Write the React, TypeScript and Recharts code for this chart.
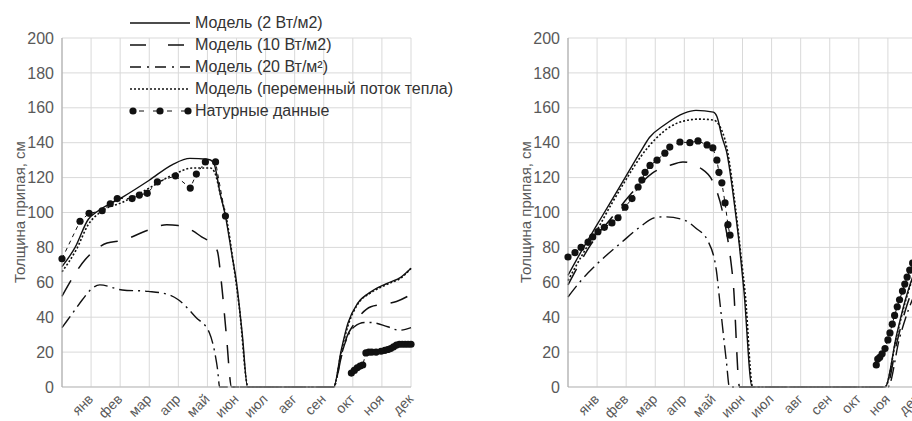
import React from "react";
import { LineChart, Line, XAxis, YAxis, CartesianGrid } from "recharts";

// month labels sit on the gridline that closes each month
const months = ["янв", "фев", "мар", "апр", "май", "июн", "июл", "авг", "сен", "окт", "ноя", "дек"];
const monthTicks = [0, 1, 2, 3, 4, 5, 6, 7, 8, 9, 10, 11, 12];
const yTicks = [0, 20, 40, 60, 80, 100, 120, 140, 160, 180, 200];

// left panel: [month, cm]
const leftModel2 = [
  [0, 69], [0.45, 80], [0.9, 96], [1.25, 101], [2.1, 109], [3, 118.5], [3.8, 127.5], [4.4, 131],
  [5.0, 130.5], [5.2, 129], [5.45, 110], [5.62, 98], [5.85, 75], [6.0, 60], [6.2, 30], [6.38, 0],
  [9.34, 0], [9.6, 21], [9.83, 36.5], [10.17, 48], [10.62, 54.5], [11.2, 59.5], [11.66, 63], [12, 68],
];
const leftModel10 = [
  [0, 52], [0.8, 73], [1.55, 82.5], [2.07, 84], [2.97, 90], [3.6, 93], [4.0, 92.5], [4.5, 89.5],
  [4.8, 86], [5.1, 83], [5.34, 78], [5.48, 60], [5.65, 30], [5.83, 0],
  [9.35, 0], [9.6, 17], [9.8, 29], [10.0, 35], [10.3, 42], [10.62, 46], [11.1, 47.5], [11.5, 49], [12, 53],
];
const leftModel20 = [
  [0, 34], [0.35, 42], [0.7, 50], [1.0, 56], [1.3, 58.5], [2.07, 55.6], [2.97, 54.8], [3.65, 53],
  [4.0, 50], [4.6, 40], [5.07, 31], [5.25, 20], [5.35, 10], [5.42, 0],
  [9.35, 0], [9.6, 18], [9.85, 30], [10.05, 34.5], [10.4, 37], [10.6, 37], [11.2, 34.5], [11.6, 32.5], [12, 34],
];
const leftModelVar = [
  [0, 66], [0.5, 79], [0.9, 93], [1.3, 100], [2.1, 106], [3, 114], [3.8, 121.5], [4.5, 125.5],
  [5.1, 125.5], [5.25, 123], [5.45, 110], [5.65, 97], [5.9, 70], [6.1, 45], [6.4, 0],
  [9.34, 0], [9.6, 20], [9.83, 35], [10.17, 47.5], [10.62, 54], [11.2, 59], [11.66, 62.5], [12, 68],
];
const leftObsSpring = [
  [0, 73.5], [0.62, 95], [0.93, 99.5], [1.38, 101], [1.66, 105], [1.9, 108], [2.41, 108], [2.66, 110],
  [2.93, 111], [3.28, 117.5], [3.9, 121], [4.41, 114], [4.62, 122], [4.93, 129], [5.28, 129], [5.62, 98],
];
const leftObsAutumn = [
  [9.95, 8], [10.05, 9.5], [10.15, 11], [10.25, 12], [10.34, 12.6], [10.45, 19.5], [10.55, 20],
  [10.65, 20], [10.8, 20], [10.97, 20.5], [11.1, 21], [11.2, 21.5], [11.3, 22], [11.4, 23],
  [11.5, 24], [11.6, 24.5], [11.7, 24.5], [11.8, 24.5], [11.9, 24.5], [12, 24.5],
];

// right panel
const rightModel2 = [
  [0, 64], [0.5, 79], [1.0, 93], [1.5, 107], [2.0, 121], [2.5, 135], [2.8, 143], [3.3, 150],
  [4.0, 157], [4.4, 158.5], [5.0, 157.5], [5.12, 155], [5.3, 143], [5.45, 135], [5.75, 101],
  [5.9, 80], [6.05, 55], [6.33, 0],
  [10.9, 0], [11.3, 30], [11.6, 50], [12, 70],
];
const rightModel10 = [
  [0, 58.5], [0.8, 82], [1.5, 97], [2.35, 114], [2.9, 122.6], [3.5, 127], [3.95, 129], [4.55, 125.5],
  [5.0, 117], [5.35, 97.5], [5.6, 72], [5.68, 60], [5.9, 0],
  [10.95, 0], [11.3, 25], [11.6, 44], [12, 62],
];
const rightModel20 = [
  [0, 51.6], [0.5, 62], [1.03, 71], [1.85, 83], [2.5, 92], [2.98, 97], [3.3, 97.5], [3.95, 96],
  [4.4, 91], [4.8, 84], [5.1, 67], [5.2, 52], [5.45, 14], [5.55, 0],
  [11.0, 0], [11.4, 28], [11.7, 44], [12, 56],
];
const rightModelVar = [
  [0, 61], [0.5, 76], [1.0, 90], [1.5, 105], [2.0, 119], [2.5, 132], [3.0, 142], [3.5, 149],
  [4.0, 152.5], [4.5, 153.5], [5.0, 153], [5.2, 150], [5.45, 138], [5.75, 104], [5.95, 75],
  [6.1, 52], [6.35, 0],
  [10.9, 0], [11.3, 29], [11.6, 49], [12, 69],
];
const rightObsSpring = [
  [0, 74.5], [0.24, 77], [0.45, 80], [0.69, 83], [0.85, 86], [1.03, 89], [1.25, 91.5], [1.51, 94],
  [1.72, 97], [1.96, 103], [2.2, 108], [2.41, 114.6], [2.54, 118.6], [2.65, 123], [2.82, 127],
  [3.06, 130], [3.33, 134], [3.5, 137.5], [3.85, 140.4], [4.19, 140], [4.47, 141], [4.78, 138.7],
  [4.98, 137], [5.12, 130], [5.19, 123], [5.29, 117], [5.4, 105.5], [5.5, 93], [5.57, 87],
];
const rightObsAutumn = [
  [10.6, 12.6], [10.65, 16], [10.72, 17], [10.8, 19], [10.9, 22], [11.0, 27], [11.07, 31],
  [11.15, 36], [11.23, 41], [11.32, 46], [11.4, 50], [11.5, 55], [11.58, 59], [11.66, 63],
  [11.75, 67], [11.85, 71], [12, 77],
];

const pts = (a: number[][]) => a.map(([m, v]) => ({ m, v }));

const INK = "#111";
const TXT = "#595959";
const FONT = "'Liberation Sans', Arial, sans-serif";

const MonthTick = (props: any) => {
  const { x, y, payload } = props;
  const label = months[payload.value - 1];
  if (!label) return null;
  const ax = x - 4;
  const ay = y - 2;
  return (
    <text x={ax} y={ay} dy="0.71em" textAnchor="end" fontSize={14} fill={TXT} fontFamily={FONT}
      transform={`rotate(-45 ${ax} ${ay})`}>
      {label}
    </text>
  );
};

type PanelProps = {
  left: number;
  m2: number[][];
  m10: number[][];
  m20: number[][];
  mVar: number[][];
  obsA: number[][];
  obsB: number[][];
};

function Panel({ left, m2, m10, m20, mVar, obsA, obsB }: PanelProps) {
  const obsDot = { r: 3.6, fill: INK, stroke: INK, strokeWidth: 0 };
  return (
    <div style={{ position: "absolute", left, top: 0 }}>
      <LineChart width={420} height={421} margin={{ top: 38, right: 9, bottom: 0, left: 0 }}>
        <CartesianGrid stroke="#d9d9d9" />
        <XAxis type="number" dataKey="m" domain={[0, 12]} ticks={monthTicks} interval={0}
          tickLine={false} axisLine={{ stroke: "#bfbfbf" }} height={34} tick={<MonthTick />} />
        <YAxis type="number" domain={[0, 200]} ticks={yTicks} interval={0} width={62}
          tickLine={false} axisLine={{ stroke: "#a6a6a6" }}
          tick={{ fontSize: 16, fill: TXT, fontFamily: FONT }} />
        <Line data={pts(m20)} dataKey="v" type="monotone" stroke={INK} strokeWidth={1.4}
          strokeDasharray="14 5 2 5" dot={false} isAnimationActive={false} />
        <Line data={pts(m10)} dataKey="v" type="monotone" stroke={INK} strokeWidth={1.5}
          strokeDasharray="18 14" dot={false} isAnimationActive={false} />
        <Line data={pts(mVar)} dataKey="v" type="monotone" stroke={INK} strokeWidth={1.6}
          strokeDasharray="2 2" dot={false} isAnimationActive={false} />
        <Line data={pts(m2)} dataKey="v" type="monotone" stroke={INK} strokeWidth={1.4}
          dot={false} isAnimationActive={false} />
        <Line data={pts(obsA)} dataKey="v" type="linear" stroke={INK} strokeWidth={1}
          strokeDasharray="4 4" dot={obsDot} isAnimationActive={false} />
        <Line data={pts(obsB)} dataKey="v" type="linear" stroke={INK} strokeWidth={1}
          strokeDasharray="4 4" dot={obsDot} isAnimationActive={false} />
      </LineChart>
      <div style={{
        position: "absolute", left: 19, top: 212, transform: "translate(-50%, -50%) rotate(-90deg)",
        whiteSpace: "nowrap", fontSize: 15, color: TXT, fontFamily: FONT,
      }}>
        Толщина припая, см
      </div>
    </div>
  );
}

const legendItems = [
  { label: "Модель (2 Вт/м2)", dash: "" },
  { label: "Модель (10 Вт/м2)", dash: "16 22" },
  { label: "Модель (20 Вт/м²)", dash: "11 6 2 6" },
  { label: "Модель (переменный поток тепла)", dash: "2 2" },
  { label: "Натурные данные", dash: "obs" },
];

function LegendBox() {
  return (
    <div style={{ position: "absolute", left: 128, top: 12, fontFamily: FONT }}>
      {legendItems.map((it, i) => (
        <div key={i} style={{ display: "flex", alignItems: "center", height: 22 }}>
          <svg width={66} height={12}>
            {it.dash === "obs" ? (
              <g>
                <line x1={5} y1={6} x2={60} y2={6} stroke={INK} strokeWidth={1} strokeDasharray="5 9" strokeDashoffset={-6} />
                <circle cx={5} cy={6} r={3.6} fill={INK} />
                <circle cx={32} cy={6} r={3.6} fill={INK} />
                <circle cx={60} cy={6} r={3.6} fill={INK} />
              </g>
            ) : (
              <line x1={2} y1={6} x2={62} y2={6} stroke={INK} strokeWidth={1.5}
                strokeDasharray={it.dash || undefined} />
            )}
          </svg>
          <span style={{ fontSize: 16, color: "#333", marginLeft: 1, whiteSpace: "nowrap" }}>{it.label}</span>
        </div>
      ))}
    </div>
  );
}

export default function App() {
  return (
    <div style={{
      position: "absolute", left: 0, top: 0, width: 912, height: 421, overflow: "hidden",
      background: "#fff", fontFamily: FONT,
    }}>
      <Panel left={0} m2={leftModel2} m10={leftModel10} m20={leftModel20} mVar={leftModelVar}
        obsA={leftObsSpring} obsB={leftObsAutumn} />
      <Panel left={506} m2={rightModel2} m10={rightModel10} m20={rightModel20} mVar={rightModelVar}
        obsA={rightObsSpring} obsB={rightObsAutumn} />
      <LegendBox />
    </div>
  );
}
